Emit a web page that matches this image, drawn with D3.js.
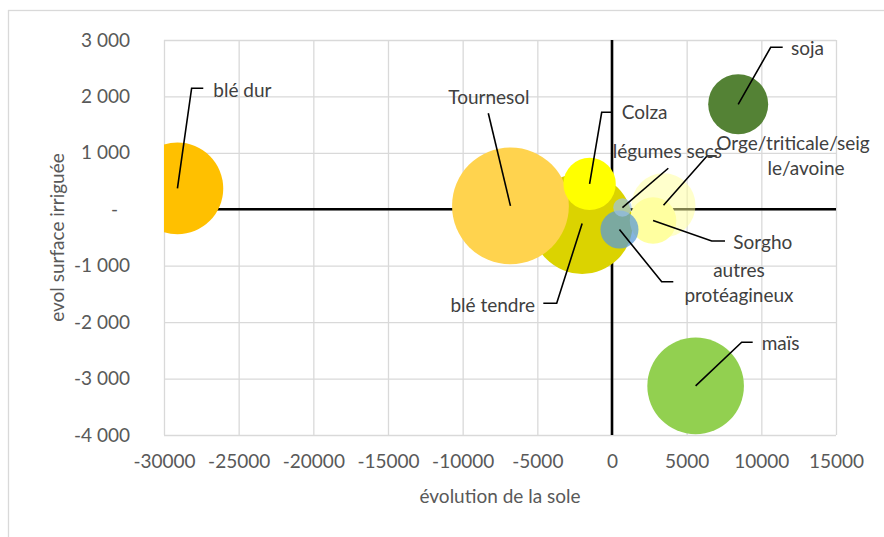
<!doctype html>
<html>
<head>
<meta charset="utf-8">
<script src="https://d3js.org/d3.v7.min.js"></script>
<style>
  body { margin: 0; background: #fff; }
  svg { display: block; font-family: Lato, "Open Sans", sans-serif; }
</style>
</head>
<body>
<svg width="884" height="537"></svg>
<script>
// cultures, évolution de la sole (x), évolution de la surface irriguée (y), taille de bulle
var cultures = ["blé dur", "blé tendre", "Tournesol", "Colza", "Orge/triticale/seigle/avoine",
                "Sorgho", "maïs", "soja", "autres protéagineux", "légumes secs"];
var evolSole = [-29100, -2000, -6800, -1500, 3450, 2750, 5600, 8450, 500, 700];
var evolIrriguee = [370, -250, 60, 450, 70, -200, -3130, 1860, -360, 30];
var taille = [61.5, 74.8, 100, 20.1, 30, 15.9, 68.4, 26.4, 10.6, 2.5];

var xTicks = [-30000, -25000, -20000, -15000, -10000, -5000, 0, 5000, 10000, 15000];
var yTicks = [-4000, -3000, -2000, -1000, 0, 1000, 2000, 3000];

// styles des bulles
var couleurs = ["#ffc000", "#dbd300", "#ffd34e", "#ffff00", "#ffff99",
                "#ffffa0", "#92d050", "#548235", "#5b9bd5", "#9dc3e6"];
var opacites = [1, 1, 1, 1, 0.5, 1, 1, 1, 0.75, 0.7];

// étiquettes (position en unités du graphique)
var etiquettes = [
  {i: 0, lignes: ["blé dur"], tx: [-26700], ty: 2110, ancre: "start", ex: -28150, ey: 2145, hx: -27370},
  {i: 2, lignes: ["Tournesol"], tx: [-8240], ty: 1985, ancre: "middle", ex: -8283, ey: 1701, hx: null},
  {i: 1, lignes: ["blé tendre"], tx: [-5156], ty: -1708, ancre: "end", ex: -3703, ey: -1666, hx: -4600},
  {i: 3, lignes: ["Colza"], tx: [650], ty: 1719, ancre: "start", ex: -690, ey: 1719, hx: -20},
  {i: 4, lignes: ["Orge/triticale/seig", "le/avoine"], tx: [12120, 12991], ty: 1170, ancre: "middle", ex: 6362, ey: 945, hx: 7011},
  {i: 5, lignes: ["Sorgho"], tx: [8123], ty: -592, ancre: "start", ex: 6676, ey: -562, hx: 7567},
  {i: 6, lignes: ["maïs"], tx: [10025], ty: -2375, ancre: "start", ex: 8685, ey: -2357, hx: 9422},
  {i: 7, lignes: ["soja"], tx: [11987], ty: 2853, ancre: "start", ex: 10627, ey: 2871, hx: 11431},
  {i: 8, lignes: ["autres", "protéagineux"], tx: [8504, 8504], ty: -1088, ancre: "middle", ex: 3328, ey: -1283, hx: 4105},
  {i: 9, lignes: ["légumes secs"], tx: [50], ty: 1021, ancre: "start", ex: 3770, ey: 727, hx: null}
];

var svg = d3.select("svg");
var pLeft = 164, pRight = 836, pTop = 40, pBottom = 435;

var xScale = d3.scaleLinear().domain([-30000, 15000]).range([pLeft, pRight]);
var yScale = d3.scaleLinear().domain([-4000, 3000]).range([pBottom, pTop]);
var rScale = d3.scaleSqrt().domain([0, 100]).range([0, 58.4]);

// cadre du graphique
svg.append("rect")
  .attr("x", 8.5).attr("y", 10.5)
  .attr("width", 1000).attr("height", 1000)
  .attr("fill", "none").attr("stroke", "#d9d9d9").attr("stroke-width", 1.3);

// grille + étiquettes des axes
var xAxis = d3.axisBottom(xScale).tickValues(xTicks)
  .tickSize(-(pBottom - pTop)).tickPadding(20).tickFormat(function(d) { return String(d); });
var gx = svg.append("g").attr("transform", "translate(0," + pBottom + ")").call(xAxis);

var yAxis = d3.axisLeft(yScale).tickValues(yTicks)
  .tickSize(-(pRight - pLeft)).tickPadding(34)
  .tickFormat(function(d) { return d === 0 ? "-" : d3.format(",")(d).replace(/,/g, " ").replace("−", "-"); });
var gy = svg.append("g").attr("transform", "translate(" + pLeft + ",0)").call(yAxis);

[gx, gy].forEach(function(g) {
  g.attr("font-family", null).attr("font-size", null);
  g.select(".domain").remove();
  g.selectAll(".tick line").attr("stroke", "#d9d9d9").attr("stroke-width", 1.3);
  g.selectAll(".tick text").attr("fill", "#595959").attr("font-size", 19);
});
gy.selectAll(".tick text").filter(function(d) { return d === 0; }).attr("dx", -12);

// axes à zéro
svg.append("line")
  .attr("x1", xScale(-30000)).attr("x2", xScale(15000))
  .attr("y1", yScale(0)).attr("y2", yScale(0))
  .attr("stroke", "#000").attr("stroke-width", 2.6);
svg.append("line")
  .attr("x1", xScale(0)).attr("x2", xScale(0))
  .attr("y1", yScale(3000)).attr("y2", yScale(-4000))
  .attr("stroke", "#000").attr("stroke-width", 2.6);

// bulles
svg.append("clipPath").attr("id", "zone")
  .append("rect").attr("x", pLeft).attr("y", pTop).attr("width", pRight - pLeft).attr("height", pBottom - pTop);

svg.append("g").attr("clip-path", "url(#zone)")
  .selectAll("circle")
  .data(cultures)
  .enter()
  .append("circle")
  .attr("cx", function(d, i) { return xScale(evolSole[i]); })
  .attr("cy", function(d, i) { return yScale(evolIrriguee[i]); })
  .attr("r", function(d, i) { return rScale(taille[i]); })
  .attr("fill", function(d, i) { return couleurs[i]; })
  .attr("fill-opacity", function(d, i) { return opacites[i]; });

// lignes de repère
svg.append("g").selectAll("path")
  .data(etiquettes)
  .enter()
  .append("path")
  .attr("fill", "none").attr("stroke", "#000").attr("stroke-width", 1.6)
  .attr("d", function(e) {
    var pts = [[xScale(evolSole[e.i]), yScale(evolIrriguee[e.i])], [xScale(e.ex), yScale(e.ey)]];
    if (e.hx !== null) pts.push([xScale(e.hx), yScale(e.ey)]);
    return d3.line()(pts);
  });

// textes des étiquettes
var lab = svg.append("g").selectAll("text")
  .data(etiquettes)
  .enter()
  .append("text")
  .attr("font-size", 19).attr("fill", "#404040")
  .attr("text-anchor", function(e) { return e.ancre; });
lab.selectAll("tspan")
  .data(function(e) { return e.lignes.map(function(l, k) { return {t: l, x: e.tx[k], y: e.ty, k: k}; }); })
  .enter()
  .append("tspan")
  .attr("x", function(d) { return xScale(d.x); })
  .attr("y", function(d) { return yScale(d.y) + d.k * 25; })
  .attr("dy", "0.35em")
  .text(function(d) { return d.t; });

// titres des axes
svg.append("text")
  .attr("x", (pLeft + pRight) / 2).attr("y", 496).attr("dy", "0.35em")
  .attr("text-anchor", "middle").attr("font-size", 19).attr("fill", "#595959")
  .text("évolution de la sole");
svg.append("text")
  .attr("transform", "translate(57," + (pTop + pBottom) / 2 + ") rotate(-90)")
  .attr("dy", "0.35em")
  .attr("text-anchor", "middle").attr("font-size", 19).attr("fill", "#595959")
  .text("evol surface irriguée");
</script>
</body>
</html>
